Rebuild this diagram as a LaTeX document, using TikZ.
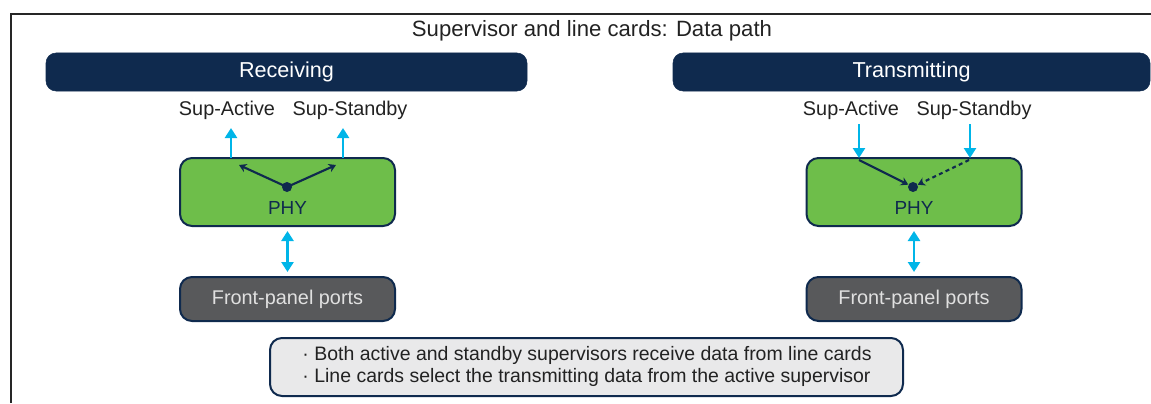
\documentclass[tikz,border=0pt]{standalone}
\usepackage{fontspec}
\setmainfont{Liberation Sans}
\usetikzlibrary{arrows.meta}
\definecolor{navy}{HTML}{0F2A4E}
\definecolor{cyanA}{HTML}{00B5E8}
\definecolor{phygreen}{HTML}{6EBE4A}
\definecolor{portgray}{HTML}{58595B}
\definecolor{notegray}{HTML}{E9E9EA}
\definecolor{txt}{HTML}{222222}
\tikzset{
  bar/.style={fill=navy, draw=navy, rounded corners=7.5pt, minimum height=28.5pt, text=white, font=\fontsize{16.2}{19}\selectfont, inner sep=0pt},
  phybox/.style={fill=phygreen, draw=navy, line width=1.5pt, rounded corners=9pt, minimum width=161.25pt, minimum height=51pt, inner sep=0pt},
  portbox/.style={fill=portgray, draw=navy, line width=1.5pt, rounded corners=9pt, minimum width=161.25pt, minimum height=33pt, inner sep=0pt, text=white!88!black, font=\fontsize{14.9}{18}\selectfont},
  lbl/.style={text=txt, font=\fontsize{14.9}{18}\selectfont, inner sep=0pt},
  phylbl/.style={text=navy, font=\fontsize{14.2}{17}\selectfont, inner sep=0pt},
  cyarrow/.style={draw=cyanA, line width=1.9pt, -{Triangle[width=9pt,length=7.5pt]}},
  cydouble/.style={draw=cyanA, line width=1.9pt, {Triangle[width=9pt,length=7.5pt]}-{Triangle[width=9pt,length=7.5pt]}},
  navyarrow/.style={draw=navy, line width=1.6pt, -{Stealth[width=6.5pt,length=5.5pt]}},
  dot/.style={circle, fill=navy, inner sep=0pt, minimum size=7.5pt},
}
\begin{document}
\begin{tikzpicture}[x=0.75pt, y=-0.75pt]
\useasboundingbox (0,0) rectangle (1151,403);
% outer frame (cropped)
\draw[line width=1.6pt, black!85] (11,403) -- (11,14) -- (1151,14);
\node[text=txt, font=\fontsize{16.6}{20}\selectfont, inner sep=0pt] (title) at (592,31) {Supervisor and line cards: Data path};

\node[bar, minimum width=360.75pt] (recv) at (286.5,72) {Receiving};
\node[bar, minimum width=357.75pt] (trans) at (911.5,72) {Transmitting};

% ---------- Receiving ----------
\node[lbl] (supAL) at (227,110) {Sup-Active};
\node[lbl] (supSL) at (350,110) {Sup-Standby};
\node[phybox] (phyL) at (287.5,192) {};
\node[phylbl] (phyLt) at (287.5,208) {PHY};
\node[dot] (dotL) at (287,187) {};
\coordinate (upAL0) at (231,158);
\coordinate (upAL1) at (231,128);
\coordinate (upSL0) at (343,158);
\coordinate (upSL1) at (343,128);
\draw[cyarrow] (upAL0) -- (upAL1);
\draw[cyarrow] (upSL0) -- (upSL1);
\coordinate (tAL) at (239,165);
\coordinate (tSL) at (336,165);
\draw[navyarrow] (dotL.center) -- (tAL);
\draw[navyarrow] (dotL.center) -- (tSL);
\node[portbox] (fpL) at (287.5,299) {Front-panel ports};
\draw[cydouble] ([yshift=-3pt]phyL.south) -- ([yshift=3pt]fpL.north);

% ---------- Transmitting ----------
\node[lbl] (supAR) at (851,110) {Sup-Active};
\node[lbl] (supSR) at (974,110) {Sup-Standby};
\node[phybox] (phyR) at (914,192) {};
\node[phylbl] (phyRt) at (914,208) {PHY};
\node[dot] (dotR) at (913,187) {};
\coordinate (dnAR0) at (859,124);
\coordinate (dnAR1) at (859,158);
\coordinate (dnSR0) at (970,124);
\coordinate (dnSR1) at (970,158);
\draw[cyarrow] (dnAR0) -- (dnAR1);
\draw[cyarrow] (dnSR0) -- (dnSR1);
\coordinate (sAR) at (859,160);
\coordinate (sSR) at (969,160);
\draw[navyarrow] (sAR) -- (dotR);
\draw[navyarrow, dash pattern=on 3pt off 2.5pt] (sSR) -- (dotR);
\node[portbox] (fpR) at (914,299) {Front-panel ports};
\draw[cydouble] ([yshift=-3pt]phyR.south) -- ([yshift=3pt]fpR.north);

% ---------- Note ----------
\node[fill=notegray, draw=navy, line width=1.5pt, rounded corners=9pt, minimum width=474.75pt, minimum height=43.5pt, inner sep=0pt] (note) at (586.5,367) {};
\node[text=txt, font=\fontsize{14.6}{16.5}\selectfont, align=left, inner sep=0pt] (notetxt) at (587,366) {· Both active and standby supervisors receive data from line cards\\· Line cards select the transmitting data from the active supervisor};
\end{tikzpicture}
\end{document}
